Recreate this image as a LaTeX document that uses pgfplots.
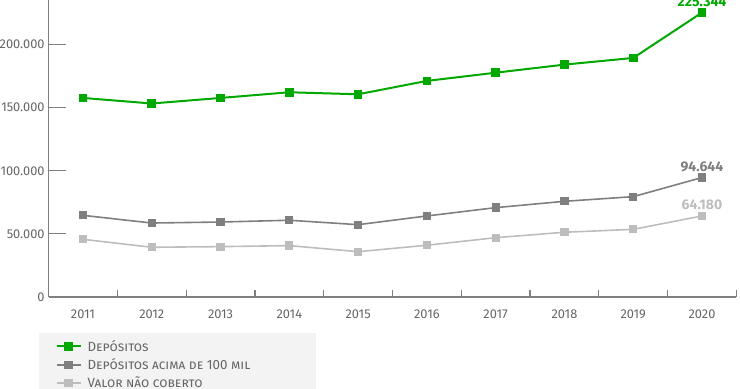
\documentclass[border=0pt]{standalone}
\usepackage{fontspec}
\setmainfont{Fira Sans}
\usepackage{pgfplots}
\pgfplotsset{compat=1.18}
\definecolor{cgreen}{HTML}{00A800}
\definecolor{cdark}{HTML}{7F7F7F}
\definecolor{clight}{HTML}{BDBDBD}
\definecolor{ctext}{HTML}{666666}
\definecolor{caxis}{HTML}{808080}
\definecolor{cleg}{HTML}{F3F3F3}
\begin{document}
\begin{tikzpicture}
\begin{axis}[
  name=ax,
  scale only axis,
  width=515.85pt, height=222.75pt,
  xmin=2010.5, xmax=2020.5,
  ymin=0, ymax=235300,
  axis lines*=left,
  axis line style={caxis, line width=0.9pt},
  clip=false,
  tick align=inside,
  tick style={caxis, line width=0.9pt},
  xtick={2010.5,2011.5,2012.5,2013.5,2014.5,2015.5,2016.5,2017.5,2018.5,2019.5,2020.5},
  x tick label as interval,
  xticklabels={2011,2012,2013,2014,2015,2016,2017,2018,2019,2020},
  xtick style={/pgfplots/major tick length=5.25pt},
  ytick={0,50000,100000,150000,200000},
  yticklabels={0,50.000,100.000,150.000,200.000},
  ytick style={/pgfplots/major tick length=12.75pt},
  ticklabel style={font=\fontsize{9.6}{12}\selectfont, text=ctext},
  yticklabel style={xshift=0.5pt},
  xticklabel style={yshift=-6pt},
  legend style={at={(rel axis cs:0,0)}, anchor=north west, xshift=5pt, yshift=-30.5pt,
    draw=none, fill=none, inner sep=0pt, row sep=1pt,
    font=\fontsize{10}{12}\selectfont\scshape, text=ctext,
    nodes={inner xsep=4.5pt, inner ysep=1.5pt}},
  legend cell align=left,
  legend image code/.code={\draw[mark repeat=2, mark phase=2] plot coordinates {(0pt,0pt) (9pt,0pt) (18pt,0pt)};},
]
\fill[cleg] ([xshift=-6.9pt,yshift=-27pt]rel axis cs:0,0) rectangle ([xshift=200.5pt,yshift=-80pt]rel axis cs:0,0);
\draw[caxis, line width=0.9pt] (rel axis cs:0,0.21249) -- ([xshift=12.75pt]rel axis cs:0,0.21249);
\draw[caxis, line width=0.9pt] (rel axis cs:0,0.42499) -- ([xshift=12.75pt]rel axis cs:0,0.42499);
\draw[caxis, line width=0.9pt] (rel axis cs:0,0.63748) -- ([xshift=12.75pt]rel axis cs:0,0.63748);
\draw[caxis, line width=0.9pt] (rel axis cs:0,0.84998) -- ([xshift=12.75pt]rel axis cs:0,0.84998);
\addplot[cgreen, line width=1.5pt, mark=square*, mark size=2.5pt, mark options={solid}] coordinates {
(2011,157700) (2012,153300) (2013,157700) (2014,162200) (2015,160600) (2016,171200) (2017,177700) (2018,184100) (2019,189400) (2020,225344)};
\addlegendentry{Depósitos}
\addplot[cdark, line width=1.2pt, mark=square*, mark size=2.5pt] coordinates {
(2011,64700) (2012,58600) (2013,59400) (2014,60800) (2015,57300) (2016,64200) (2017,70800) (2018,75800) (2019,79500) (2020,94644)};
\addlegendentry{Depósitos acima de 100 mil}
\addplot[clight, line width=1.2pt, mark=square*, mark size=2.5pt] coordinates {
(2011,45700) (2012,39400) (2013,39900) (2014,40700) (2015,35900) (2016,41000) (2017,47000) (2018,51300) (2019,53600) (2020,64180)};
\addlegendentry{Valor não coberto}
\addplot[draw=none, forget plot, nodes near coords={225.344},
  nodes near coords style={font=\fontsize{10.5}{12}\selectfont\bfseries, text=cgreen, yshift=1pt}] coordinates {(2020,225344)};
\addplot[draw=none, forget plot, nodes near coords={94.644},
  nodes near coords style={font=\fontsize{10.5}{12}\selectfont\bfseries, text=cdark, yshift=1pt}] coordinates {(2020,94644)};
\addplot[draw=none, forget plot, nodes near coords={64.180},
  nodes near coords style={font=\fontsize{10.5}{12}\selectfont\bfseries, text=clight, yshift=1pt}] coordinates {(2020,64180)};
\coordinate (bl) at (rel axis cs:0,0);
\coordinate (tr) at (rel axis cs:1,1);
\end{axis}
\pgfresetboundingbox
\useasboundingbox ([xshift=-36.45pt,yshift=-69pt]bl) rectangle ([xshift=2.7pt]tr);
\end{tikzpicture}
\end{document}
